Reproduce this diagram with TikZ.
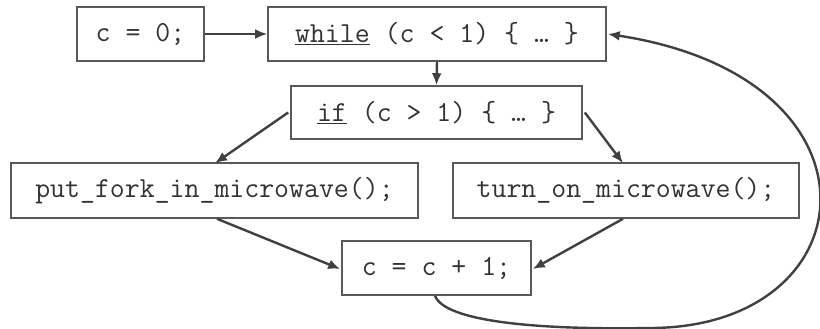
\documentclass[tikz,border=0pt]{standalone}
\usepackage{fontspec}
\usetikzlibrary{arrows.meta}
\definecolor{ink}{HTML}{404040}
\definecolor{frame}{HTML}{595959}
\begin{document}
\begin{tikzpicture}[x=1pt,y=-1pt,
  box/.style={draw=frame, line width=1.6pt, fill=white, inner sep=0pt,
    font=\ttfamily\fontsize{29}{34}\selectfont, text=black!80},
  arr/.style={draw=ink, line width=2.4pt, -{Latex[length=12pt,width=10pt]}}]
\useasboundingbox (0,0) rectangle (820,329);
% statements
\node[box, minimum width=127pt, minimum height=54pt] (init) at (140.5,34) {c = 0;};
\node[box, minimum width=338pt, minimum height=54pt] (wh) at (437,34) {\underline{while} (c < 1) \{ … \}};
\node[box, minimum width=291pt, minimum height=53pt] (cond) at (436.5,112.5) {\underline{if} (c > 1) \{ … \}};
\node[box, minimum width=407pt, minimum height=55pt] (fork) at (214.5,190.5) {put\_fork\_in\_microwave();};
\node[box, minimum width=346pt, minimum height=55pt] (turn) at (626,190.5) {turn\_on\_microwave();};
\node[box, minimum width=189pt, minimum height=54pt] (inc) at (436.5,268) {c = c + 1;};
% control flow
\draw[arr] (init.east) -- (wh.west);
\draw[arr] (wh.south) -- (cond.north);
\draw[arr] ([xshift=-2pt]cond.west) -- ([xshift=0.5pt,yshift=-1pt]fork.north);
\draw[arr] ([xshift=2pt]cond.east) -- ([xshift=-3pt,yshift=-1pt]turn.north);
\draw[arr] ([xshift=2.5pt]fork.south) -- ([xshift=-1pt,yshift=-1pt]inc.west);
\draw[arr] ([xshift=-3pt]turn.south) -- ([xshift=1pt,yshift=-1pt]inc.east);
% loop back edge
\coordinate (low) at (650,328);
\draw[arr] ([xshift=-1.5pt]inc.south) .. controls (445,322) and (540,330) .. (low)
  .. controls (870,328) and (895,78) .. ([xshift=1pt]wh.east);
\end{tikzpicture}
\end{document}
